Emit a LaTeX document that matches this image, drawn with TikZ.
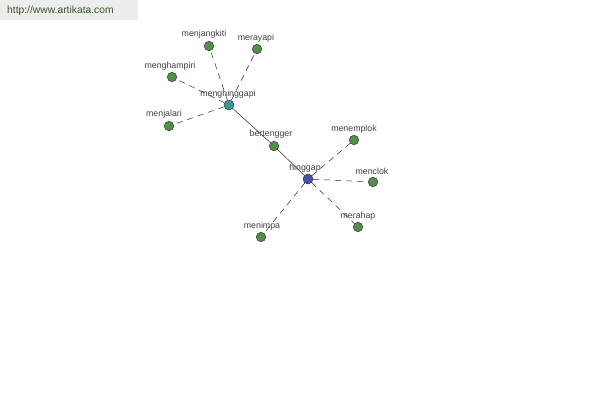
\documentclass[tikz,border=0pt]{standalone}
\usepackage{fontspec}
\setmainfont{Liberation Sans}
\begin{document}
\begin{tikzpicture}[x=1pt,y=-1pt,
  leaf/.style={circle,draw=black!80,fill={rgb,255:red,80;green,145;blue,70},minimum size=9.5pt,inner sep=0pt,line width=0.5pt},
  hubA/.style={circle,draw=black!80,fill={rgb,255:red,60;green,150;blue,150},minimum size=10pt,inner sep=0pt,line width=0.5pt},
  hubB/.style={circle,draw=black!80,fill={rgb,255:red,70;green,80;blue,170},minimum size=10pt,inner sep=0pt,line width=0.5pt},
  lbl/.style={font=\fontsize{8.8}{9}\selectfont,text=black!75,inner sep=0pt},
  syn/.style={dashed,dash pattern=on 6pt off 5pt,line width=0.5pt,black!85},
  rel/.style={line width=0.5pt,black!85}]
\useasboundingbox (0,0) rectangle (600,400);
\fill[black!7] (0,0) rectangle (138,20);
\node[lbl,anchor=west,font=\fontsize{10.3}{11}\selectfont,text={rgb,255:red,60;green,85;blue,45}] (wm) at (7,11) {http://www.artikata.com};
% nodes
\node[hubA] (mh) at (229,105) {};
\node[hubB] (hg) at (308,179) {};
\node[leaf] (mj) at (209,46) {};
\node[leaf] (mr) at (257,49) {};
\node[leaf] (mp) at (172,77) {};
\node[leaf] (ml) at (169,126) {};
\node[leaf] (bt) at (274,146) {};
\node[leaf] (me) at (354,140) {};
\node[leaf] (mc) at (373,182) {};
\node[leaf] (ma) at (358,227) {};
\node[leaf] (mi) at (261,237) {};
% edges
\draw[syn] (mh) -- (mj);
\draw[syn] (mh) -- (mr);
\draw[syn] (mh) -- (mp);
\draw[syn] (mh) -- (ml);
\draw[syn] (hg) -- (me);
\draw[syn] (hg) -- (mc);
\draw[syn] (hg) -- (ma);
\draw[syn] (hg) -- (mi);
\draw[rel] (mh) -- (bt);
\draw[rel] (bt) -- (hg);
% labels
\node[lbl] (lmj) at (204,34) {menjangkiti};
\node[lbl] (lmr) at (256,38) {merayapi};
\node[lbl] (lmp) at (170,66) {menghampiri};
\node[lbl] (lmh) at (228,94) {menghinggapi};
\node[lbl] (lml) at (164,114) {menjalari};
\node[lbl] (lbt) at (271,134) {bertengger};
\node[lbl] (lme) at (354,129) {menemplok};
\node[lbl] (lhg) at (305,168) {hinggap};
\node[lbl] (lmc) at (372,171) {menclok};
\node[lbl] (lma) at (358,216) {merahap};
\node[lbl] (lmi) at (262,226) {menimpa};
\end{tikzpicture}
\end{document}
